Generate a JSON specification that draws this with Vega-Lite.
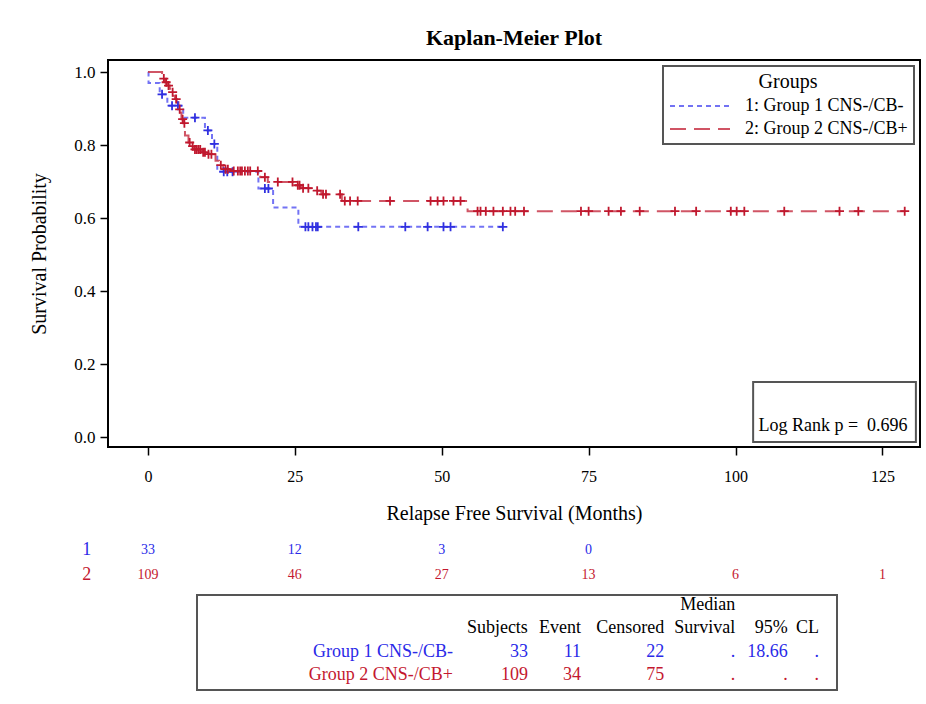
{
  "$schema": "https://vega.github.io/schema/vega-lite/v6.json",
  "background": "white",
  "padding": {"left": 28, "top": 26, "right": 5, "bottom": 5},
  "spacing": 10,
  "config": {
    "font": "Liberation Serif",
    "view": {"stroke": null},
    "legend": {"strokeWidth": 2},
    "axis": {"labelFont": "Liberation Serif", "titleFont": "Liberation Serif", "labelColor": "black", "titleColor": "black", "titleFontWeight": "normal", "tickColor": "black", "grid": false, "domain": false}
  },
  "resolve": {"scale": {"color": "independent", "stroke": "independent", "strokeDash": "independent"}, "legend": {"color": "independent"}},
  "datasets": {
    "km": [
      {"group": "1: Group 1 CNS-/CB-", "time": 0, "surv": 1.0},
      {"group": "1: Group 1 CNS-/CB-", "time": 0.1, "surv": 0.970},
      {"group": "1: Group 1 CNS-/CB-", "time": 2.0, "surv": 0.939},
      {"group": "1: Group 1 CNS-/CB-", "time": 3.3, "surv": 0.908},
      {"group": "1: Group 1 CNS-/CB-", "time": 6.0, "surv": 0.875},
      {"group": "1: Group 1 CNS-/CB-", "time": 9.7, "surv": 0.840},
      {"group": "1: Group 1 CNS-/CB-", "time": 10.9, "surv": 0.803},
      {"group": "1: Group 1 CNS-/CB-", "time": 11.8, "surv": 0.727},
      {"group": "1: Group 1 CNS-/CB-", "time": 18.8, "surv": 0.681},
      {"group": "1: Group 1 CNS-/CB-", "time": 21.3, "surv": 0.629},
      {"group": "1: Group 1 CNS-/CB-", "time": 25.6, "surv": 0.576},
      {"group": "1: Group 1 CNS-/CB-", "time": 60.4, "surv": 0.576},
      {"group": "2: Group 2 CNS-/CB+", "time": 0, "surv": 1.0},
      {"group": "2: Group 2 CNS-/CB+", "time": 2.4, "surv": 0.982},
      {"group": "2: Group 2 CNS-/CB+", "time": 2.9, "surv": 0.972},
      {"group": "2: Group 2 CNS-/CB+", "time": 3.3, "surv": 0.963},
      {"group": "2: Group 2 CNS-/CB+", "time": 3.7, "surv": 0.954},
      {"group": "2: Group 2 CNS-/CB+", "time": 4.0, "surv": 0.945},
      {"group": "2: Group 2 CNS-/CB+", "time": 4.3, "surv": 0.935},
      {"group": "2: Group 2 CNS-/CB+", "time": 4.6, "surv": 0.926},
      {"group": "2: Group 2 CNS-/CB+", "time": 4.9, "surv": 0.917},
      {"group": "2: Group 2 CNS-/CB+", "time": 5.2, "surv": 0.898},
      {"group": "2: Group 2 CNS-/CB+", "time": 5.5, "surv": 0.889},
      {"group": "2: Group 2 CNS-/CB+", "time": 5.7, "surv": 0.871},
      {"group": "2: Group 2 CNS-/CB+", "time": 6.0, "surv": 0.860},
      {"group": "2: Group 2 CNS-/CB+", "time": 6.3, "surv": 0.826},
      {"group": "2: Group 2 CNS-/CB+", "time": 6.9, "surv": 0.807},
      {"group": "2: Group 2 CNS-/CB+", "time": 7.3, "surv": 0.797},
      {"group": "2: Group 2 CNS-/CB+", "time": 7.8, "surv": 0.788},
      {"group": "2: Group 2 CNS-/CB+", "time": 9.2, "surv": 0.780},
      {"group": "2: Group 2 CNS-/CB+", "time": 9.9, "surv": 0.775},
      {"group": "2: Group 2 CNS-/CB+", "time": 11.5, "surv": 0.757},
      {"group": "2: Group 2 CNS-/CB+", "time": 12.1, "surv": 0.745},
      {"group": "2: Group 2 CNS-/CB+", "time": 12.8, "surv": 0.734},
      {"group": "2: Group 2 CNS-/CB+", "time": 14.0, "surv": 0.729},
      {"group": "2: Group 2 CNS-/CB+", "time": 19.1, "surv": 0.712},
      {"group": "2: Group 2 CNS-/CB+", "time": 20.4, "surv": 0.699},
      {"group": "2: Group 2 CNS-/CB+", "time": 25.0, "surv": 0.690},
      {"group": "2: Group 2 CNS-/CB+", "time": 26.0, "surv": 0.682},
      {"group": "2: Group 2 CNS-/CB+", "time": 28.1, "surv": 0.675},
      {"group": "2: Group 2 CNS-/CB+", "time": 29.5, "surv": 0.665},
      {"group": "2: Group 2 CNS-/CB+", "time": 33.0, "surv": 0.647},
      {"group": "2: Group 2 CNS-/CB+", "time": 54.4, "surv": 0.619},
      {"group": "2: Group 2 CNS-/CB+", "time": 128.8, "surv": 0.619}
    ],
    "cens": [
      {"group": "1: Group 1 CNS-/CB-", "time": 2.4, "surv": 0.939},
      {"group": "1: Group 1 CNS-/CB-", "time": 4.1, "surv": 0.908},
      {"group": "1: Group 1 CNS-/CB-", "time": 5.1, "surv": 0.908},
      {"group": "1: Group 1 CNS-/CB-", "time": 8.0, "surv": 0.875},
      {"group": "1: Group 1 CNS-/CB-", "time": 10.2, "surv": 0.840},
      {"group": "1: Group 1 CNS-/CB-", "time": 11.3, "surv": 0.803},
      {"group": "1: Group 1 CNS-/CB-", "time": 12.9, "surv": 0.727},
      {"group": "1: Group 1 CNS-/CB-", "time": 13.5, "surv": 0.727},
      {"group": "1: Group 1 CNS-/CB-", "time": 14.4, "surv": 0.727},
      {"group": "1: Group 1 CNS-/CB-", "time": 19.9, "surv": 0.681},
      {"group": "1: Group 1 CNS-/CB-", "time": 20.5, "surv": 0.681},
      {"group": "1: Group 1 CNS-/CB-", "time": 26.8, "surv": 0.576},
      {"group": "1: Group 1 CNS-/CB-", "time": 27.3, "surv": 0.576},
      {"group": "1: Group 1 CNS-/CB-", "time": 28.0, "surv": 0.576},
      {"group": "1: Group 1 CNS-/CB-", "time": 28.6, "surv": 0.576},
      {"group": "1: Group 1 CNS-/CB-", "time": 28.9, "surv": 0.576},
      {"group": "1: Group 1 CNS-/CB-", "time": 35.8, "surv": 0.576},
      {"group": "1: Group 1 CNS-/CB-", "time": 43.8, "surv": 0.576},
      {"group": "1: Group 1 CNS-/CB-", "time": 47.6, "surv": 0.576},
      {"group": "1: Group 1 CNS-/CB-", "time": 50.3, "surv": 0.576},
      {"group": "1: Group 1 CNS-/CB-", "time": 51.5, "surv": 0.576},
      {"group": "1: Group 1 CNS-/CB-", "time": 60.4, "surv": 0.576},
      {"group": "2: Group 2 CNS-/CB+", "time": 2.7, "surv": 0.982},
      {"group": "2: Group 2 CNS-/CB+", "time": 3.1, "surv": 0.972},
      {"group": "2: Group 2 CNS-/CB+", "time": 3.5, "surv": 0.963},
      {"group": "2: Group 2 CNS-/CB+", "time": 4.2, "surv": 0.945},
      {"group": "2: Group 2 CNS-/CB+", "time": 4.8, "surv": 0.926},
      {"group": "2: Group 2 CNS-/CB+", "time": 5.4, "surv": 0.898},
      {"group": "2: Group 2 CNS-/CB+", "time": 5.9, "surv": 0.871},
      {"group": "2: Group 2 CNS-/CB+", "time": 6.2, "surv": 0.860},
      {"group": "2: Group 2 CNS-/CB+", "time": 7.1, "surv": 0.807},
      {"group": "2: Group 2 CNS-/CB+", "time": 7.6, "surv": 0.797},
      {"group": "2: Group 2 CNS-/CB+", "time": 8.0, "surv": 0.788},
      {"group": "2: Group 2 CNS-/CB+", "time": 8.3, "surv": 0.788},
      {"group": "2: Group 2 CNS-/CB+", "time": 8.6, "surv": 0.788},
      {"group": "2: Group 2 CNS-/CB+", "time": 8.9, "surv": 0.788},
      {"group": "2: Group 2 CNS-/CB+", "time": 9.4, "surv": 0.780},
      {"group": "2: Group 2 CNS-/CB+", "time": 9.7, "surv": 0.780},
      {"group": "2: Group 2 CNS-/CB+", "time": 10.3, "surv": 0.775},
      {"group": "2: Group 2 CNS-/CB+", "time": 10.8, "surv": 0.775},
      {"group": "2: Group 2 CNS-/CB+", "time": 12.4, "surv": 0.745},
      {"group": "2: Group 2 CNS-/CB+", "time": 13.2, "surv": 0.734},
      {"group": "2: Group 2 CNS-/CB+", "time": 13.6, "surv": 0.734},
      {"group": "2: Group 2 CNS-/CB+", "time": 14.6, "surv": 0.729},
      {"group": "2: Group 2 CNS-/CB+", "time": 15.3, "surv": 0.729},
      {"group": "2: Group 2 CNS-/CB+", "time": 15.7, "surv": 0.729},
      {"group": "2: Group 2 CNS-/CB+", "time": 16.0, "surv": 0.729},
      {"group": "2: Group 2 CNS-/CB+", "time": 16.5, "surv": 0.729},
      {"group": "2: Group 2 CNS-/CB+", "time": 17.0, "surv": 0.729},
      {"group": "2: Group 2 CNS-/CB+", "time": 17.4, "surv": 0.729},
      {"group": "2: Group 2 CNS-/CB+", "time": 18.7, "surv": 0.729},
      {"group": "2: Group 2 CNS-/CB+", "time": 19.9, "surv": 0.712},
      {"group": "2: Group 2 CNS-/CB+", "time": 22.1, "surv": 0.699},
      {"group": "2: Group 2 CNS-/CB+", "time": 24.6, "surv": 0.699},
      {"group": "2: Group 2 CNS-/CB+", "time": 25.5, "surv": 0.690},
      {"group": "2: Group 2 CNS-/CB+", "time": 25.8, "surv": 0.690},
      {"group": "2: Group 2 CNS-/CB+", "time": 26.4, "surv": 0.682},
      {"group": "2: Group 2 CNS-/CB+", "time": 27.3, "surv": 0.682},
      {"group": "2: Group 2 CNS-/CB+", "time": 28.8, "surv": 0.675},
      {"group": "2: Group 2 CNS-/CB+", "time": 29.8, "surv": 0.665},
      {"group": "2: Group 2 CNS-/CB+", "time": 30.3, "surv": 0.665},
      {"group": "2: Group 2 CNS-/CB+", "time": 32.7, "surv": 0.665},
      {"group": "2: Group 2 CNS-/CB+", "time": 33.5, "surv": 0.647},
      {"group": "2: Group 2 CNS-/CB+", "time": 34.4, "surv": 0.647},
      {"group": "2: Group 2 CNS-/CB+", "time": 35.7, "surv": 0.647},
      {"group": "2: Group 2 CNS-/CB+", "time": 41.2, "surv": 0.647},
      {"group": "2: Group 2 CNS-/CB+", "time": 48.1, "surv": 0.647},
      {"group": "2: Group 2 CNS-/CB+", "time": 49.3, "surv": 0.647},
      {"group": "2: Group 2 CNS-/CB+", "time": 50.3, "surv": 0.647},
      {"group": "2: Group 2 CNS-/CB+", "time": 52.0, "surv": 0.647},
      {"group": "2: Group 2 CNS-/CB+", "time": 53.2, "surv": 0.647},
      {"group": "2: Group 2 CNS-/CB+", "time": 56.1, "surv": 0.619},
      {"group": "2: Group 2 CNS-/CB+", "time": 56.6, "surv": 0.619},
      {"group": "2: Group 2 CNS-/CB+", "time": 57.5, "surv": 0.619},
      {"group": "2: Group 2 CNS-/CB+", "time": 58.8, "surv": 0.619},
      {"group": "2: Group 2 CNS-/CB+", "time": 60.4, "surv": 0.619},
      {"group": "2: Group 2 CNS-/CB+", "time": 61.7, "surv": 0.619},
      {"group": "2: Group 2 CNS-/CB+", "time": 62.5, "surv": 0.619},
      {"group": "2: Group 2 CNS-/CB+", "time": 64.0, "surv": 0.619},
      {"group": "2: Group 2 CNS-/CB+", "time": 73.7, "surv": 0.619},
      {"group": "2: Group 2 CNS-/CB+", "time": 75.0, "surv": 0.619},
      {"group": "2: Group 2 CNS-/CB+", "time": 78.4, "surv": 0.619},
      {"group": "2: Group 2 CNS-/CB+", "time": 80.5, "surv": 0.619},
      {"group": "2: Group 2 CNS-/CB+", "time": 83.7, "surv": 0.619},
      {"group": "2: Group 2 CNS-/CB+", "time": 89.7, "surv": 0.619},
      {"group": "2: Group 2 CNS-/CB+", "time": 93.3, "surv": 0.619},
      {"group": "2: Group 2 CNS-/CB+", "time": 99.2, "surv": 0.619},
      {"group": "2: Group 2 CNS-/CB+", "time": 100.2, "surv": 0.619},
      {"group": "2: Group 2 CNS-/CB+", "time": 101.5, "surv": 0.619},
      {"group": "2: Group 2 CNS-/CB+", "time": 108.3, "surv": 0.619},
      {"group": "2: Group 2 CNS-/CB+", "time": 117.7, "surv": 0.619},
      {"group": "2: Group 2 CNS-/CB+", "time": 120.9, "surv": 0.619},
      {"group": "2: Group 2 CNS-/CB+", "time": 128.8, "surv": 0.619}
    ],
    "risk": [
      {"grp": "1", "row": 1, "time": 0, "n": "33"},
      {"grp": "1", "row": 1, "time": 25, "n": "12"},
      {"grp": "1", "row": 1, "time": 50, "n": "3"},
      {"grp": "1", "row": 1, "time": 75, "n": "0"},
      {"grp": "2", "row": 2, "time": 0, "n": "109"},
      {"grp": "2", "row": 2, "time": 25, "n": "46"},
      {"grp": "2", "row": 2, "time": 50, "n": "27"},
      {"grp": "2", "row": 2, "time": 75, "n": "13"},
      {"grp": "2", "row": 2, "time": 100, "n": "6"},
      {"grp": "2", "row": 2, "time": 125, "n": "1"}
    ],
    "tbl": [
      {"row": 0, "grp": "h", "label": "", "subjects": "", "event": "", "censored": "", "median": "Median", "lcl": "", "ucl": ""},
      {"row": 1, "grp": "h", "label": "", "subjects": "Subjects", "event": "Event", "censored": "Censored", "median": "Survival", "lcl": "95%", "ucl": "CL"},
      {"row": 2, "grp": "g1", "label": "Group 1 CNS-/CB-", "subjects": "33", "event": "11", "censored": "22", "median": ".", "lcl": "18.66", "ucl": "."},
      {"row": 3, "grp": "g2", "label": "Group 2 CNS-/CB+", "subjects": "109", "event": "34", "censored": "75", "median": ".", "lcl": ".", "ucl": "."}
    ]
  },
  "vconcat": [
    {
      "width": 812,
      "height": 387,
      "title": {"text": "Kaplan-Meier Plot", "font": "Liberation Serif", "fontSize": 22, "fontWeight": "bold", "frame": "group", "anchor": "middle", "offset": 10, "color": "black"},
      "view": {"stroke": "black", "strokeWidth": 2},
      "layer": [
        {
          "data": {"name": "km"},
          "mark": {"type": "line", "interpolate": "step-after", "strokeWidth": 2, "opacity": 0.85},
          "encoding": {
            "x": {"field": "time", "type": "quantitative", "scale": {"domain": [-6.8, 131.4], "nice": false, "zero": false},
              "axis": {"values": [0, 25, 50, 75, 100, 125], "title": "Relapse Free Survival (Months)", "tickSize": 8, "tickWidth": 1.5, "labelFontSize": 16, "labelPadding": 13, "titleFontSize": 20, "titlePadding": 19, "labelFlush": false}},
            "y": {"field": "surv", "type": "quantitative", "scale": {"domain": [-0.027, 1.033], "nice": false, "zero": false},
              "axis": {"values": [0, 0.2, 0.4, 0.6, 0.8, 1.0], "format": ".1f", "title": "Survival Probability", "tickSize": 8, "tickWidth": 1.5, "labelFontSize": 17, "labelPadding": 5, "titleFontSize": 20, "titlePadding": 24, "labelFlush": false}},
            "color": {"field": "group", "type": "nominal", "title": "Groups",
              "scale": {"domain": ["1: Group 1 CNS-/CB-", "2: Group 2 CNS-/CB+"], "range": ["#5a5af2", "#c8374a"]},
              "legend": {"orient": "top-right", "offset": 6, "titleAnchor": "middle", "titleFontSize": 20, "titleFontWeight": "normal", "titleFont": "Liberation Serif", "titleColor": "black", "labelFontSize": 18, "labelFont": "Liberation Serif", "labelColor": "black", "labelLimit": 400, "symbolType": "M-3,0L3,0", "symbolSize": 400, "symbolOffset": 20, "symbolStrokeWidth": 2, "strokeColor": "#555555", "fillColor": "white", "padding": 6, "labelOffset": 34, "rowPadding": 3, "titlePadding": 3}},
            "strokeDash": {"field": "group", "type": "nominal", "title": "Groups",
              "scale": {"domain": ["1: Group 1 CNS-/CB-", "2: Group 2 CNS-/CB+"], "range": [[5, 4], [16, 8]]},
              "legend": {"orient": "top-right", "offset": 6, "titleAnchor": "middle", "titleFontSize": 20, "titleFontWeight": "normal", "titleFont": "Liberation Serif", "titleColor": "black", "labelFontSize": 18, "labelFont": "Liberation Serif", "labelColor": "black", "labelLimit": 400, "symbolType": "M-3,0L3,0", "symbolSize": 400, "symbolOffset": 20, "symbolStrokeWidth": 2, "strokeColor": "#555555", "fillColor": "white", "padding": 6, "labelOffset": 34, "rowPadding": 3, "titlePadding": 3}}
          }
        },
        {
          "data": {"name": "cens"},
          "mark": {"type": "point", "shape": "M-1,0L1,0M0,-1L0,1", "size": 81, "strokeWidth": 1.8, "filled": false, "opacity": 1},
          "encoding": {
            "x": {"field": "time", "type": "quantitative"},
            "y": {"field": "surv", "type": "quantitative"},
            "stroke": {"field": "group", "type": "nominal", "scale": {"domain": ["1: Group 1 CNS-/CB-", "2: Group 2 CNS-/CB+"], "range": ["#3030e0", "#c0182e"]}, "legend": null}
          }
        },
        {
          "data": {"values": [{}]},
          "mark": {"type": "rect", "fill": "white", "stroke": "#555555", "strokeWidth": 2},
          "encoding": {"x": {"datum": 103.0}, "x2": {"datum": 130.7}, "y": {"datum": 0.151}, "y2": {"datum": -0.013}}
        },
        {
          "data": {"values": [{}]},
          "mark": {"type": "text", "align": "left", "baseline": "middle", "fontSize": 18, "font": "Liberation Serif", "color": "black"},
          "encoding": {"x": {"datum": 103.9}, "y": {"datum": 0.03}, "text": {"value": "Log Rank p = \u00a00.696"}}
        }
      ]
    },
    {
      "width": 812,
      "height": 50,
      "data": {"name": "risk"},
      "encoding": {
        "y": {"field": "row", "type": "quantitative", "scale": {"domain": [0.36, 2.36], "reverse": true, "nice": false, "zero": false}, "axis": null},
        "color": {"field": "grp", "type": "nominal", "scale": {"domain": ["1", "2"], "range": ["#2a2ae8", "#c4182f"]}, "legend": null}
      },
      "layer": [
        {
          "mark": {"type": "text", "font": "Liberation Sans Narrow", "fontSize": 14, "baseline": "middle", "align": "center"},
          "encoding": {
            "x": {"field": "time", "type": "quantitative", "scale": {"domain": [-6.8, 131.4], "nice": false, "zero": false}, "axis": null},
            "text": {"field": "n"}
          }
        },
        {
          "transform": [{"filter": "datum.time == 0"}],
          "mark": {"type": "text", "font": "Liberation Sans Narrow", "fontSize": 18, "baseline": "middle", "align": "center"},
          "encoding": {
            "x": {"datum": -10.4},
            "text": {"field": "grp"}
          }
        }
      ]
    },
    {
      "spacing": 0,
      "hconcat": [
        {
          "width": 88,
          "height": 95,
          "data": {"values": [{}]},
          "mark": {"type": "point", "opacity": 0},
          "encoding": {}
        },
        {
          "width": 640,
          "height": 95,
          "view": {"stroke": "#555555", "strokeWidth": 2},
          "data": {"name": "tbl"},
          "encoding": {
            "y": {"field": "row", "type": "quantitative", "scale": {"domain": [-0.429, 3.643], "reverse": true, "nice": false, "zero": false}, "axis": null},
            "color": {"field": "grp", "type": "nominal", "scale": {"domain": ["h", "g1", "g2"], "range": ["black", "#2a2ae8", "#c4182f"]}, "legend": null}
          },
          "layer": [
            {"mark": {"type": "text", "align": "right", "baseline": "middle", "fontSize": 18}, "encoding": {"x": {"datum": 40.0, "scale": {"domain": [0, 100], "nice": false, "zero": false}, "axis": null}, "text": {"field": "label"}}},
            {"mark": {"type": "text", "align": "right", "baseline": "middle", "fontSize": 18}, "encoding": {"x": {"datum": 51.7}, "text": {"field": "subjects"}}},
            {"mark": {"type": "text", "align": "right", "baseline": "middle", "fontSize": 18}, "encoding": {"x": {"datum": 60.0}, "text": {"field": "event"}}},
            {"mark": {"type": "text", "align": "right", "baseline": "middle", "fontSize": 18}, "encoding": {"x": {"datum": 73.0}, "text": {"field": "censored"}}},
            {"mark": {"type": "text", "align": "right", "baseline": "middle", "fontSize": 18}, "encoding": {"x": {"datum": 84.1}, "text": {"field": "median"}}},
            {"mark": {"type": "text", "align": "right", "baseline": "middle", "fontSize": 18}, "encoding": {"x": {"datum": 92.3}, "text": {"field": "lcl"}}},
            {"mark": {"type": "text", "align": "right", "baseline": "middle", "fontSize": 18}, "encoding": {"x": {"datum": 97.2}, "text": {"field": "ucl"}}}
          ]
        }
      ]
    }
  ]
}
